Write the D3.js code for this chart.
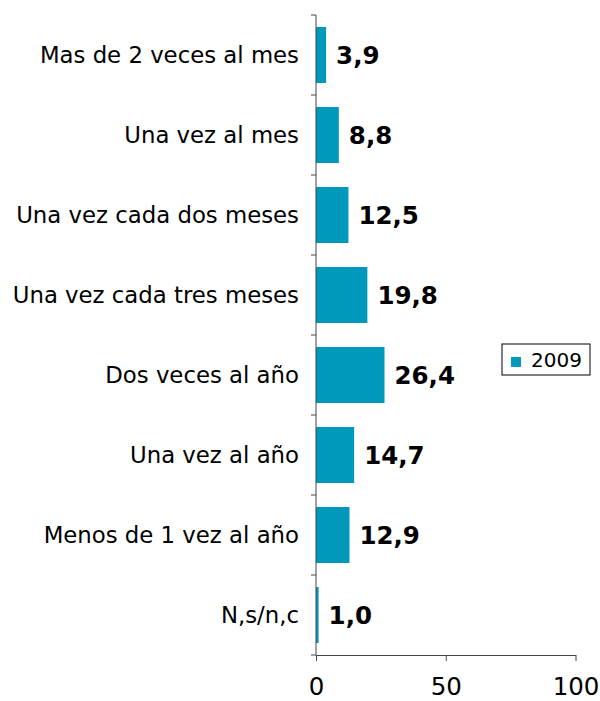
<!DOCTYPE html>
<html>
<head>
<meta charset="utf-8">
<script src="https://cdn.jsdelivr.net/npm/d3@7"></script>
<style>
  body { margin: 0; background: #fff; }
  svg { font-family: Verdana, "DejaVu Sans", sans-serif; }
</style>
</head>
<body>
<div id="chart"></div>
<script>
// data
var categories = [
    "Mas de 2 veces al mes",
    "Una vez al mes",
    "Una vez cada dos meses",
    "Una vez cada tres meses",
    "Dos veces al año",
    "Una vez al año",
    "Menos de 1 vez al año",
    "N,s/n,c"
];
var values2009 = [3.9, 8.8, 12.5, 19.8, 26.4, 14.7, 12.9, 1.0];
var xTicks = [0, 50, 100];
var seriesName = "2009";

var svg = d3.select("#chart").append("svg")
    .attr("width", 600)
    .attr("height", 701);

var margin = { top: 15, left: 316, right: 24.5, bottom: 46 },
    width = 600 - margin.left - margin.right,
    height = 701 - margin.top - margin.bottom,
    g = svg.append("g").attr("transform", "translate(" + margin.left + "," + margin.top + ")");

var x = d3.scaleLinear()
    .domain([0, 100])
    .range([0, width]);

var y = d3.scaleBand()
    .domain(categories)
    .range([0, height])
    .paddingInner(0.3)
    .paddingOuter(0.15);

var color = "#0099bb";

var data = categories.map(function(c, i) { return { cat: c, v: values2009[i] }; });

g.selectAll(".bar")
    .data(data)
    .enter().append("rect")
    .attr("class", "bar")
    .attr("x", 0)
    .attr("y", function(d) { return y(d.cat); })
    .attr("width", function(d) { return x(d.v); })
    .attr("height", y.bandwidth())
    .attr("fill", color);

g.selectAll(".val")
    .data(data)
    .enter().append("text")
    .attr("class", "val")
    .attr("x", function(d) { return x(d.v) + 10; })
    .attr("y", function(d) { return y(d.cat) + y.bandwidth() / 2; })
    .attr("dy", "0.36em")
    .attr("font-size", 24.5)
    .attr("font-weight", "bold")
    .attr("fill", "#000")
    .text(function(d) { return d3.format(".1f")(d.v).replace(".", ","); });

// y axis: line with boundary ticks between categories
var step = height / categories.length;
var yAxis = g.append("g").attr("class", "axis axis--y");
yAxis.append("line")
    .attr("x1", 0).attr("x2", 0)
    .attr("y1", 0).attr("y2", height)
    .attr("stroke", "#444");
yAxis.selectAll(".tk")
    .data(d3.range(categories.length + 1))
    .enter().append("line")
    .attr("x1", -5).attr("x2", 0)
    .attr("y1", function(i) { return i * step; })
    .attr("y2", function(i) { return i * step; })
    .attr("stroke", "#444");
yAxis.selectAll(".lbl")
    .data(categories)
    .enter().append("text")
    .attr("x", -17)
    .attr("y", function(d) { return y(d) + y.bandwidth() / 2; })
    .attr("dy", "0.36em")
    .attr("text-anchor", "end")
    .attr("font-size", 22.8)
    .attr("fill", "#000")
    .text(function(d) { return d; });

// x axis
var xAxis = g.append("g")
    .attr("class", "axis axis--x")
    .attr("transform", "translate(0," + height + ")")
    .call(d3.axisBottom(x).tickValues(xTicks).tickSize(6).tickSizeOuter(0).tickPadding(17));
xAxis.select(".domain").attr("stroke", "#444");
xAxis.selectAll(".tick line").attr("stroke", "#444");
xAxis.selectAll(".tick text")
    .attr("font-size", 24.5)
    .attr("font-family", "Verdana, 'DejaVu Sans', sans-serif")
    .attr("fill", "#000");

// legend
var legend = svg.append("g").attr("transform", "translate(502,344)");
legend.append("rect")
    .attr("width", 88).attr("height", 31)
    .attr("fill", "#fff")
    .attr("stroke", "#000");
legend.append("rect")
    .attr("x", 9).attr("y", 13)
    .attr("width", 10).attr("height", 10)
    .attr("fill", color);
legend.append("text")
    .attr("x", 29).attr("y", 16)
    .attr("dy", "0.36em")
    .attr("font-size", 20)
    .text(seriesName);
</script>
</body>
</html>
